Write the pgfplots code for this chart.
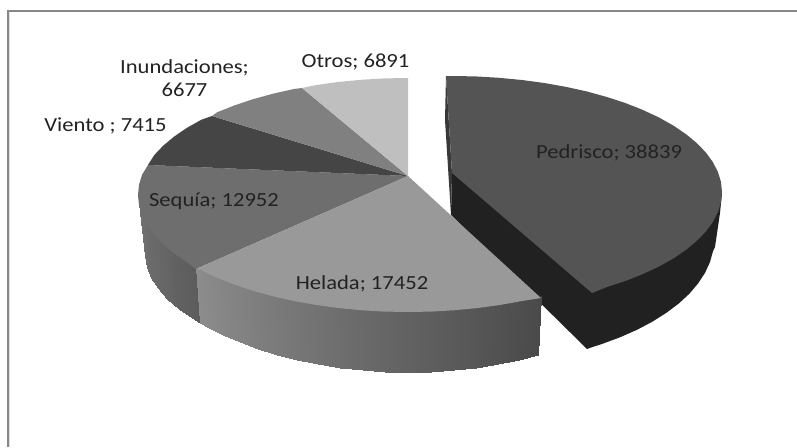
\documentclass[border=0pt]{standalone}
\usepackage{fontspec}
\setmainfont{Carlito}
\usepackage{graphicx}
\usepackage{pgfplots}
\usepgfplotslibrary{patchplots}
\pgfplotsset{compat=1.18}
\definecolor{labelc}{HTML}{222222}
\newcommand{\lbl}[1]{\scalebox{1.13}[1]{#1}}
\begin{document}
\begin{tikzpicture}[lab/.style={font=\fontsize{20}{22}\selectfont, text=labelc, inner sep=0pt, align=center}]
\begin{axis}[
  scale only axis, width=797pt, height=447pt,
  xmin=0, xmax=797, ymin=0, ymax=447, y dir=reverse,
  hide axis, clip=true,
  colormap={greys}{gray(0cm)=(0); gray(1cm)=(1)},
  point meta min=0, point meta max=1,
]
% full extent of the picture
\addplot[draw=white, line width=0.1pt] coordinates {(0,0) (797,447)};
% chart area frame
\addplot[draw=black!12, line width=1pt] coordinates {(9.6,447) (9.6,12.6)};
\addplot[draw=black!47, line width=2pt] coordinates {(8,447) (8,11) (797,11)};

% Pedrisco: side wall of the pulled-out slice
\addplot[fill=black!87, draw=none] coordinates {
 (452,173) (722,193) (720,213) (715,247) (713,251.1) (710,262) (705,272.9) (698.1,283.4)
 (689.4,293.7) (678.8,303.5) (666.4,312.8) (652.5,321.6) (637,329.8) (620,337.3)
 (601.9,344) (590.4,347.7) (587,349) (451,215)} -- cycle;
% Pedrisco: inner cut face seen edge-on
\addplot[fill=black!78, draw=none] coordinates {(446,76) (452,173) (451,215) (445,120)} -- cycle;
% Pedrisco: top face
\addplot[fill=black!67, draw=none] coordinates {
 (452,173) (446,76) (452,76) (475.5,76.4) (498.9,77.8) (521.9,80) (544.3,83) (566.1,86.9)
 (587,91.5) (606.9,97) (625.6,103.1) (642.9,110) (658.8,117.4) (673.2,125.5) (685.8,134)
 (696.7,143) (705.7,152.3) (712.8,162) (717.9,171.9) (721,181.9) (722,192) (721,202.1)
 (717.9,212.1) (712.8,222) (705.7,231.7) (696.7,241) (685.8,250) (673.2,258.5) (658.8,266.6)
 (642.9,274) (625.6,280.9) (606.9,287) (592,293)} -- cycle;

% Sequia: curved wall with its shading
\addplot[patch, patch type=rectangle, shader=interp, point meta=explicit]
 table[meta=c] {
x y c
138 193 .46
145 245 .46
145 256 .44
139 203.2 .44
139 203.2 .44
145 256 .44
147 267 .43
142.1 213.3 .43
142.1 213.3 .43
147 267 .43
151 278 .42
147.2 223.3 .42
147.2 223.3 .42
151 278 .42
158 288.4 .41
154.3 233 .41
154.3 233 .41
158 288.4 .41
167 298.7 .40
163.3 242.4 .40
163.3 242.4 .40
167 298.7 .40
179 309 .38
174.2 251.5 .38
174.2 251.5 .38
179 309 .38
192 318 .37
186.8 260.1 .37
186.8 260.1 .37
192 318 .37
200 323 .36
196 267 .36
};

% Helada: curved wall with its shading
\addplot[patch, patch type=rectangle, shader=interp, point meta=explicit]
 table[meta=c] {
x y c
196 267 .55
200 323 .55
207.3 326.6 .544
201.2 268.2 .544
201.2 268.2 .544
207.3 326.6 .544
222.7 334.8 .528
217.1 275.7 .528
217.1 275.7 .528
222.7 334.8 .528
239.6 342.3 .512
234.4 282.6 .512
234.4 282.6 .512
239.6 342.3 .512
257.7 349 .496
253.1 288.8 .496
253.1 288.8 .496
257.7 349 .496
277 355 .48
273 294.3 .48
273 294.3 .48
277 355 .48
297.3 360.1 .464
293.9 299 .464
293.9 299 .464
297.3 360.1 .464
318.4 364.3 .448
315.7 302.9 .448
315.7 302.9 .448
318.4 364.3 .448
340.2 367.7 .432
338.1 306 .432
338.1 306 .432
340.2 367.7 .432
362.5 370.1 .416
361.1 308.2 .416
361.1 308.2 .416
362.5 370.1 .416
385.2 371.5 .40
384.5 309.6 .40
384.5 309.6 .40
385.2 371.5 .40
408 372 .384
408 310 .384
408 310 .384
408 372 .384
430.8 371.5 .368
431.5 309.6 .368
431.5 309.6 .368
430.8 371.5 .368
453.5 370.1 .352
454.9 308.2 .352
454.9 308.2 .352
453.5 370.1 .352
475.8 367.7 .336
477.9 306 .336
477.9 306 .336
475.8 367.7 .336
497.6 364.3 .32
500.3 302.9 .32
500.3 302.9 .32
497.6 364.3 .32
518.7 360.1 .304
522.1 299 .304
522.1 299 .304
518.7 360.1 .304
538 355 .29
541 296 .29
};

% top faces of the remaining slices
\addplot[fill=black!57, draw=none] coordinates {
 (408,176) (148,165) (142.1,174.7) (139,184.8) (138,195) (139,205.2) (142.1,215.3) (147.2,225.3)
 (154.3,235) (163.3,244.4) (174.2,253.5) (186.8,262.1) (196,269)} -- cycle;
\addplot[fill=black!40, draw=none] coordinates {
 (408,176) (196,269) (201.2,270.2) (217.1,277.7) (234.4,284.6) (253.1,290.8) (273,296.3)
 (293.9,301) (315.7,304.9) (338.1,308) (361.1,310.2) (384.5,311.6) (408,312) (431.5,311.6)
 (454.9,310.2) (477.9,308) (500.3,304.9) (522.1,301) (541,298)} -- cycle;
\addplot[fill=black!73, draw=none] coordinates {
 (408,176) (212,116) (201.2,119.8) (186.8,127.9) (174.2,136.5) (163.3,145.6) (154.3,155) (148,165)} -- cycle;
\addplot[fill=black!50, draw=none] coordinates {
 (408,176) (302,88) (293.9,89) (273,93.7) (253.1,99.2) (234.4,105.4) (217.1,112.3) (212,116)} -- cycle;
\addplot[fill=black!25, draw=none] coordinates {
 (408,176) (408,78) (384.5,78.4) (361.1,79.8) (338.1,82) (315.7,85.1) (302,88)} -- cycle;

% data labels
\node[lab] at (axis cs:609,153) {\lbl{Pedrisco; 38839}};
\node[lab] at (axis cs:362,284) {\lbl{Helada; 17452}};
\node[lab] at (axis cs:214,201) {\lbl{Sequía; 12952}};
\node[lab] at (axis cs:105.5,126) {\lbl{Viento ; 7415}};
\node[lab] at (axis cs:184.5,78) {\lbl{Inundaciones;}\\[1pt]\lbl{6677}};
\node[lab] at (axis cs:355.5,62) {\lbl{Otros; 6891}};
\end{axis}
\end{tikzpicture}
\end{document}
